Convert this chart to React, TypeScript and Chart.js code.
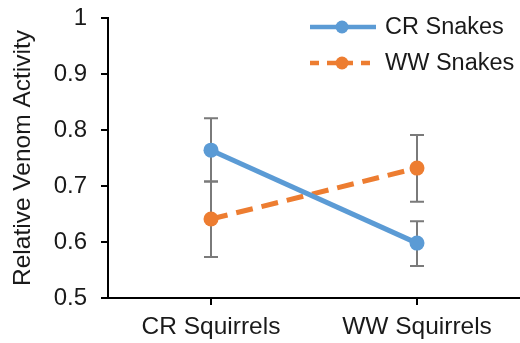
import React, { useEffect, useRef } from "react";
import { Chart, registerables } from "chart.js";

Chart.register(...registerables);

const categories = ["CR Squirrels", "WW Squirrels"];
const seriesNames = ["CR Snakes", "WW Snakes"];
const crSnakes = [0.764, 0.598];
const wwSnakes = [0.641, 0.732];
const crSnakesUpper = [0.821, 0.637];
const crSnakesLower = [0.708, 0.557];
const wwSnakesUpper = [0.708, 0.791];
const wwSnakesLower = [0.573, 0.672];
const yTicks = [0.5, 0.6, 0.7, 0.8, 0.9, 1];

const BLUE = "#5B9BD5";
const ORANGE = "#ED7D31";
const FONT = "'Liberation Sans', Arial, sans-serif";

const errorBarPlugin = {
  id: "errorBars",
  beforeDatasetsDraw(chart: any) {
    const ctx = chart.ctx;
    const x = chart.scales.x;
    const y = chart.scales.y;
    const sets = [
      [crSnakesUpper, crSnakesLower],
      [wwSnakesUpper, wwSnakesLower],
    ];
    ctx.save();
    ctx.strokeStyle = "#7a7a7a";
    ctx.lineWidth = 2;
    sets.forEach(([up, lo]) => {
      categories.forEach((_, i) => {
        const px = x.getPixelForValue(i);
        const yu = y.getPixelForValue(up[i]);
        const yl = y.getPixelForValue(lo[i]);
        ctx.beginPath();
        ctx.moveTo(px, yu);
        ctx.lineTo(px, yl);
        ctx.moveTo(px - 7, yu);
        ctx.lineTo(px + 7, yu);
        ctx.moveTo(px - 7, yl);
        ctx.lineTo(px + 7, yl);
        ctx.stroke();
      });
    });
    ctx.restore();
  },
};

const legendPlugin = {
  id: "customLegend",
  afterDraw(chart: any) {
    const ctx = chart.ctx;
    const items = [
      { name: seriesNames[0], color: BLUE, dash: [] as number[], y: 27 },
      { name: seriesNames[1], color: ORANGE, dash: [9, 8], y: 63 },
    ];
    ctx.save();
    items.forEach((it) => {
      ctx.strokeStyle = it.color;
      ctx.lineWidth = 4.5;
      ctx.setLineDash(it.dash);
      ctx.beginPath();
      ctx.moveTo(310, it.y);
      ctx.lineTo(376, it.y);
      ctx.stroke();
      ctx.setLineDash([]);
      ctx.fillStyle = it.color;
      ctx.beginPath();
      ctx.arc(342, it.y, 6.5, 0, Math.PI * 2);
      ctx.fill();
      ctx.fillStyle = "#1a1a1a";
      ctx.font = `23.5px ${FONT}`;
      ctx.textBaseline = "middle";
      ctx.textAlign = "left";
      ctx.fillText(it.name, 385, it.y + 1);
    });
    ctx.restore();
  },
};

export default function App() {
  const ref = useRef<HTMLCanvasElement>(null);
  useEffect(() => {
    document.body.style.margin = "0";
    const chart = new Chart(ref.current as HTMLCanvasElement, {
      type: "line",
      data: {
        labels: categories,
        datasets: [
          {
            label: seriesNames[0],
            data: crSnakes,
            borderColor: BLUE,
            backgroundColor: BLUE,
            borderWidth: 5,
            pointRadius: 7.5,
            pointBorderWidth: 0,
            pointBackgroundColor: BLUE,
            tension: 0,
          },
          {
            label: seriesNames[1],
            data: wwSnakes,
            borderColor: ORANGE,
            backgroundColor: ORANGE,
            borderWidth: 5,
            borderDash: [17, 9],
            pointRadius: 7.5,
            pointBorderWidth: 0,
            pointBackgroundColor: ORANGE,
            tension: 0,
          },
        ],
      },
      options: {
        animation: false,
        responsive: false,
        maintainAspectRatio: false,
        layout: { autoPadding: false, padding: { top: 18, right: -4, left: 0, bottom: 0 } },
        plugins: { legend: { display: false }, tooltip: { enabled: false } },
        scales: {
          x: {
            offset: true,
            grid: { display: true, drawOnChartArea: false, drawTicks: true, tickLength: 7, offset: false, color: "#000", lineWidth: 2 },
            border: { display: true, color: "#000", width: 2 },
            ticks: { color: "#1a1a1a", font: { family: FONT, size: 24.5 }, padding: 8 },
            afterFit(scale: any) {
              scale.height = 45;
              scale.paddingLeft = 0;
              scale.paddingRight = 0;
            },
          },
          y: {
            min: 0.5,
            max: 1,
            afterBuildTicks(scale: any) {
              scale.ticks = yTicks.map((v) => ({ value: v }));
            },
            grid: { display: true, drawOnChartArea: false, drawTicks: true, tickLength: 7, color: "#000", lineWidth: 2 },
            border: { display: true, color: "#000", width: 2 },
            ticks: {
              color: "#1a1a1a",
              font: { family: FONT, size: 24 },
              padding: 14,
              callback: (v: any) => (Number(v) === 1 ? "1" : Number(v).toFixed(1)),
            },
            title: {
              display: true,
              text: "Relative Venom Activity",
              color: "#1a1a1a",
              font: { family: FONT, size: 24.5 },
              padding: { top: 9, bottom: 0 },
            },
            afterFit(scale: any) {
              scale.width = 108;
              scale.paddingTop = 0;
              scale.paddingBottom = 0;
            },
          },
        },
      },
      plugins: [errorBarPlugin, legendPlugin],
    });
    return () => chart.destroy();
  }, []);
  return (
    <div style={{ width: 520, height: 343 }}>
      <canvas ref={ref} width={520} height={343} />
    </div>
  );
}
